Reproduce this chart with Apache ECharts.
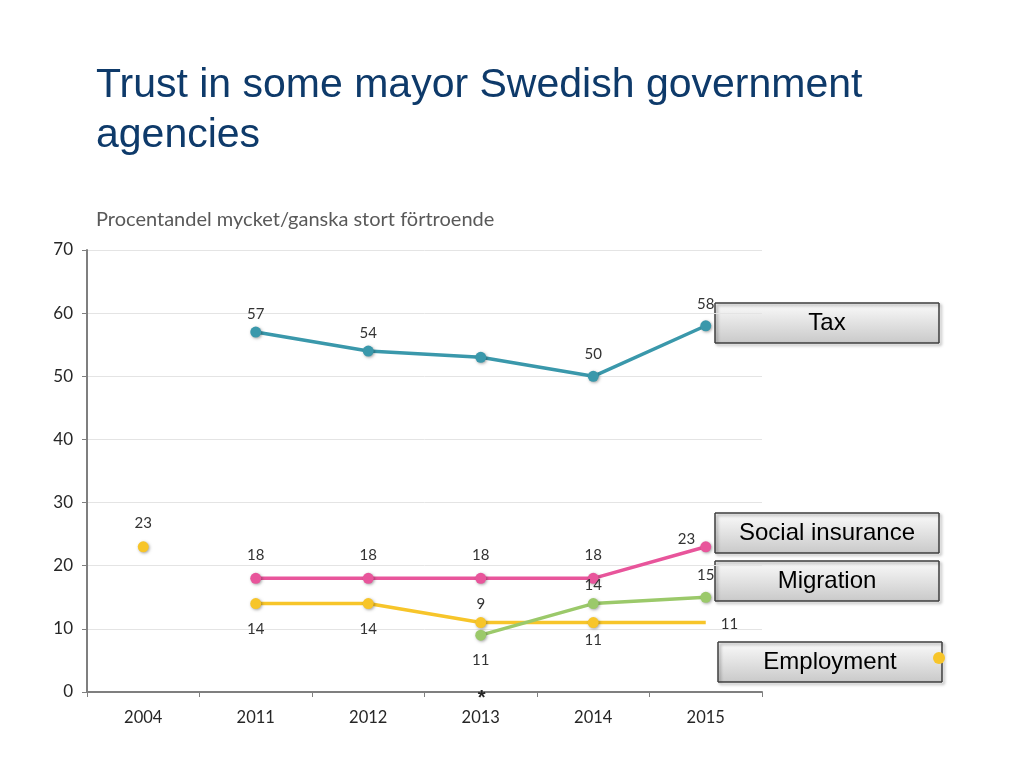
<!DOCTYPE html>
<html>
<head>
<meta charset="utf-8">
<script src="https://cdn.jsdelivr.net/npm/echarts@6/dist/echarts.min.js"></script>
<style>
html,body{margin:0;padding:0;background:#fff;}
#chart{width:1024px;height:768px;}
</style>
</head>
<body>
<div id="chart"></div>
<script>
var categories = ['2004', '2011', '2012', '2013', '2014', '2015'];
var yTicks = [0, 10, 20, 30, 40, 50, 60, 70];
var tax = [null, 57, 54, 53, 50, 58];
var socialInsurance = [null, 18, 18, 18, 18, 23];
var migration = [null, null, null, 9, 14, 15];
var employment = [null, 14, 14, 11, 11, 11];
var employment2004 = [23, null, null, null, null, null];
var legendNames = ['Tax', 'Social insurance', 'Migration', 'Employment'];

var C_TAX = '#3a98ab', C_SOC = '#e8559b', C_MIG = '#9bc96a', C_EMP = '#f7c52a';
var LBL = {color: '#333333', fontFamily: 'Lato', fontSize: 15};

function withLabels(arr, cfg) {
  return arr.map(function (v, i) {
    if (v === null) return null;
    var item = {value: v};
    var c = cfg[i];
    if (c) {
      item.label = Object.assign({show: true}, LBL, c);
      if (c.hideSymbol) { item.symbolSize = 0; delete item.label.hideSymbol; }
    }
    return item;
  });
}

function series(name, data, color, cfg) {
  return {
    name: name, type: 'line', data: withLabels(data, cfg),
    symbol: 'circle', symbolSize: 11, showSymbol: true,
    lineStyle: {color: color, width: 3.5},
    itemStyle: {color: color, shadowColor: 'rgba(0,0,0,0.35)', shadowBlur: 3, shadowOffsetX: 1, shadowOffsetY: 1},
    label: Object.assign({show: true, position: 'top'}, LBL),
    emphasis: {disabled: true}, animation: false
  };
}

var chart = echarts.init(document.getElementById('chart'));

function legendBox(text, x, y, w, h) {
  return {
    type: 'group', x: x, y: y, z: 100,
    children: [
      {type: 'rect', shape: {x: 0, y: 0, width: w, height: h},
        style: {
          fill: {type: 'linear', x: 0, y: 0, x2: 0, y2: 1,
            colorStops: [{offset: 0, color: '#fbfbfb'}, {offset: 1, color: '#c9c9c9'}]},
          stroke: '#3f3f3f', lineWidth: 1,
          shadowBlur: 3, shadowOffsetX: 2, shadowOffsetY: 2, shadowColor: 'rgba(0,0,0,0.35)'
        }},
      {type: 'text', x: w / 2, y: h / 2,
        style: {text: text, fill: '#000', font: '24px "Liberation Sans", Arial, sans-serif',
          textAlign: 'center', textVerticalAlign: 'middle'}}
    ]
  };
}

var option = {
  backgroundColor: '#fff',
  title: [
    {text: 'Trust in some mayor Swedish government\nagencies', left: 91, top: 56,
      textStyle: {color: '#0e3a6a', fontFamily: '"Liberation Sans", Arial, sans-serif', fontSize: 41, fontWeight: 'normal', lineHeight: 50}},
    {text: 'Procentandel mycket/ganska stort förtroende', left: 91, top: 205,
      textStyle: {color: '#595959', fontFamily: 'Lato', fontSize: 20, fontWeight: 'normal'}}
  ],
  grid: {left: 87, right: 262, top: 250, bottom: 76},
  xAxis: {
    type: 'category', data: categories, boundaryGap: true,
    axisLine: {lineStyle: {color: '#7f7f7f', width: 2}},
    axisTick: {show: true, length: 5, lineStyle: {color: '#7f7f7f', width: 1}},
    axisLabel: {color: '#262626', fontFamily: 'Lato', fontSize: 16.5, margin: 17},
    splitLine: {show: false}
  },
  yAxis: {
    type: 'value', min: yTicks[0], max: yTicks[yTicks.length - 1], interval: 10,
    axisLine: {show: true, lineStyle: {color: '#7f7f7f', width: 2}},
    axisTick: {show: true, length: 5, lineStyle: {color: '#7f7f7f', width: 1}},
    axisLabel: {color: '#262626', fontFamily: 'Lato', fontSize: 17, margin: 14},
    splitLine: {lineStyle: {color: '#e4e4e4', width: 1}}
  },
  series: [
    series('Tax', tax, C_TAX, {
      1: {}, 2: {}, 3: {show: false}, 4: {offset: [0, -4]}, 5: {offset: [0, -4]}
    }),
    series('Social insurance', socialInsurance, C_SOC, {
      1: {offset: [0, -5]}, 2: {offset: [0, -5]}, 3: {offset: [0, -5]}, 4: {offset: [0, -5]},
      5: {position: 'left', offset: [0, -8]}
    }),
    series('Employment', employment, C_EMP, {
      1: {position: 'bottom', offset: [0, 8]}, 2: {position: 'bottom', offset: [0, 8]},
      3: {position: 'bottom', offset: [0, 20]}, 4: {position: 'bottom'},
      5: {position: 'right', offset: [10, 2], hideSymbol: true}
    }),
    series('Migration', migration, C_MIG, {
      3: {offset: [0, -13]}, 4: {}, 5: {offset: [0, -4]}
    }),
    series('Employment 2004', employment2004, C_EMP, {
      0: {offset: [0, -6]}
    })
  ],
  graphic: [
    {type: 'circle', shape: {cx: 939, cy: 658, r: 6}, style: {fill: C_EMP}, z: 50},
    legendBox(legendNames[0], 715, 303, 224, 40),
    legendBox(legendNames[1], 715, 513, 224, 40),
    legendBox(legendNames[2], 715, 561, 224, 40),
    legendBox(legendNames[3], 718, 642, 224, 40)
  ]
};
chart.setOption(option);

// asterisk under the 2013 category on the x axis
var p = chart.convertToPixel({xAxisIndex: 0, yAxisIndex: 0}, ['2013', 0]);
chart.setOption({
  graphic: option.graphic.concat([{
    type: 'text', x: p[0] + 1, y: p[1] + 6, z: 60,
    style: {text: '*', fill: '#262626', font: 'bold 20px "Liberation Sans", Arial', textAlign: 'center', textVerticalAlign: 'middle'}
  }])
});
</script>
</body>
</html>
